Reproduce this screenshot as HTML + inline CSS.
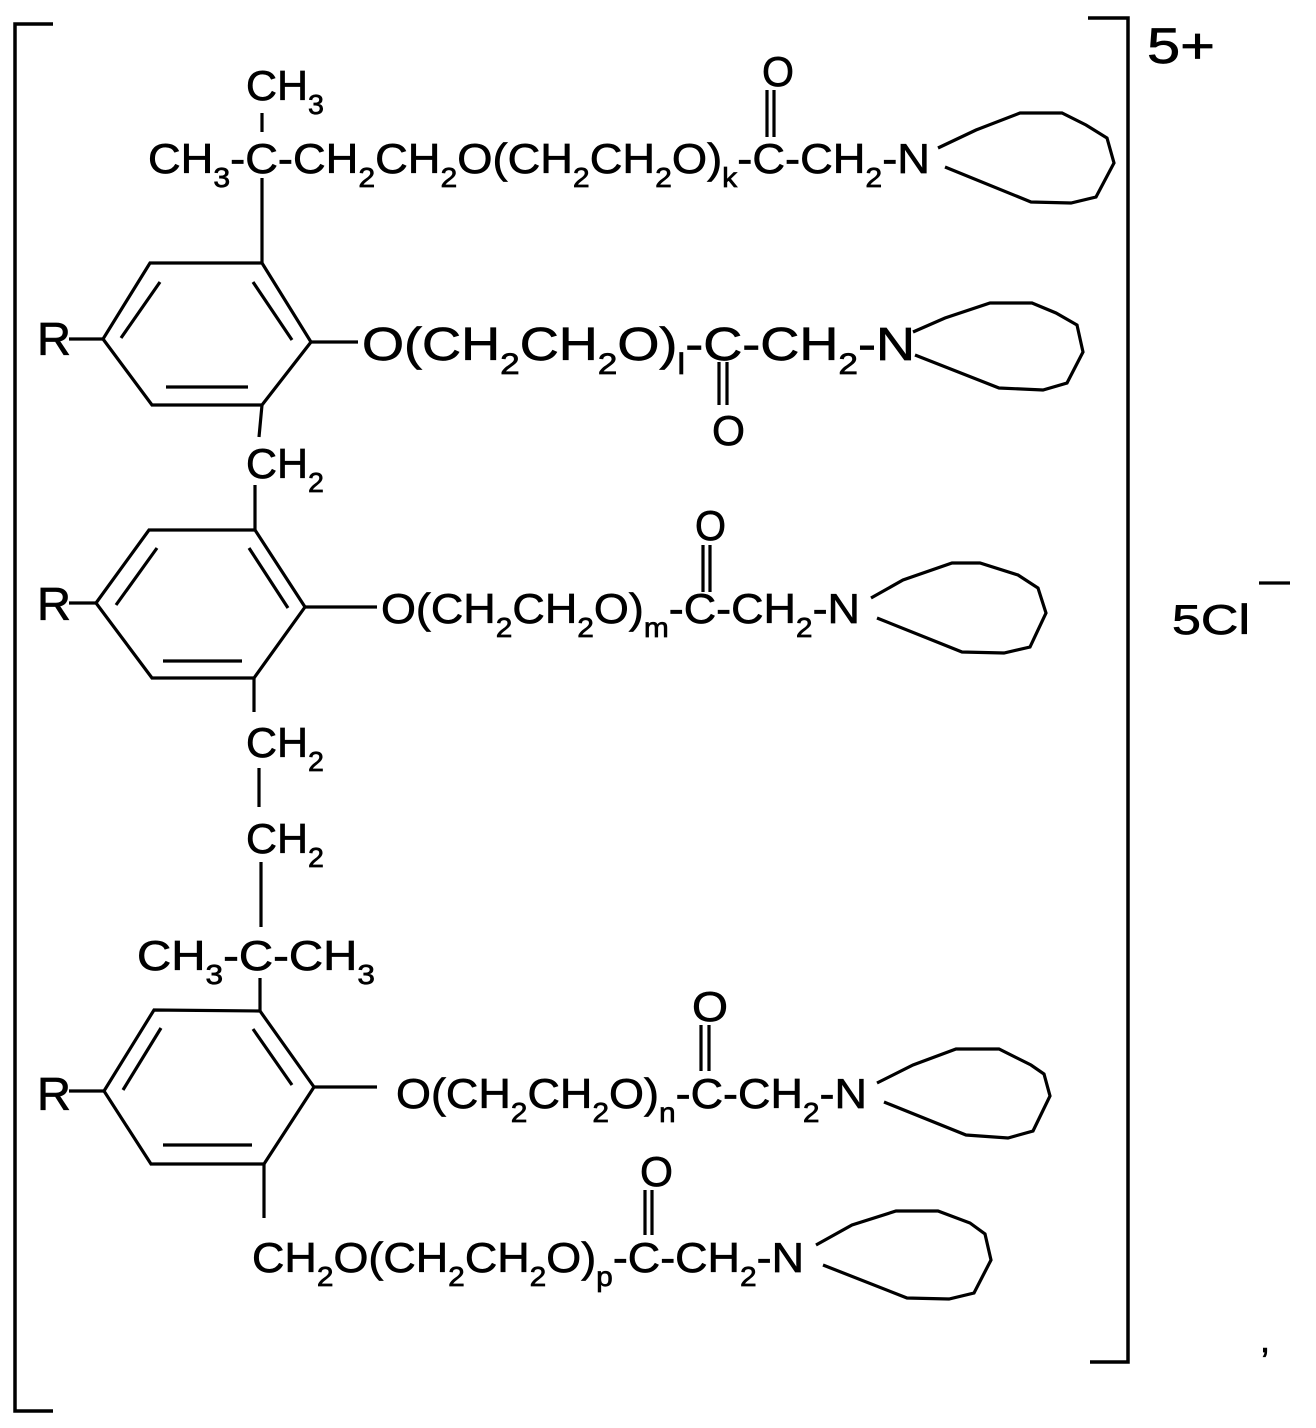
<!DOCTYPE html>
<html><head><meta charset="utf-8"><style>
html,body{margin:0;padding:0;background:#fff;}
svg{display:block;}
text{font-family:"Liberation Sans",Arial,sans-serif;fill:#000;stroke:#000;stroke-width:0.7;}
</style></head><body>
<svg width="1316" height="1428" viewBox="0 0 1316 1428" xmlns="http://www.w3.org/2000/svg">
<g stroke="#000" stroke-width="3.2" fill="none" stroke-linecap="butt">
<polyline points="53,24 15,24 15,1411 53,1411" stroke-width="3.5"/>
<polyline points="1088,18 1128,18 1128,1362 1090,1362" stroke-width="3.5"/>
<polygon points="150,263 262,263 311,342 262,405 152,405 103,339"/>
<line x1="160" y1="282" x2="121" y2="338"/>
<line x1="253" y1="282" x2="292" y2="340"/>
<line x1="166" y1="387" x2="248" y2="387"/>
<line x1="69" y1="339" x2="103" y2="339"/>
<line x1="311" y1="342" x2="358" y2="342"/>
<line x1="262" y1="113" x2="262" y2="132"/>
<line x1="262" y1="178" x2="262" y2="263"/>
<line x1="262" y1="405" x2="259" y2="437"/>
<line x1="255" y1="485" x2="255" y2="530"/>
<polygon points="149,530 255,530 305,607 254,678 152,678 96,603"/>
<line x1="157" y1="548" x2="116" y2="605"/>
<line x1="249" y1="548" x2="288" y2="608"/>
<line x1="163" y1="661" x2="242" y2="661"/>
<line x1="69" y1="603" x2="96" y2="603"/>
<line x1="305" y1="607" x2="377" y2="607"/>
<line x1="254" y1="678" x2="254" y2="712"/>
<line x1="259" y1="768" x2="259" y2="807"/>
<line x1="261" y1="862" x2="261" y2="927"/>
<line x1="260" y1="978" x2="260" y2="1011"/>
<polygon points="154,1010 260,1011 314,1087 264,1164 151,1164 104,1091"/>
<line x1="161" y1="1028" x2="123" y2="1090"/>
<line x1="253" y1="1029" x2="292" y2="1085"/>
<line x1="163" y1="1145" x2="252" y2="1145"/>
<line x1="69" y1="1091" x2="104" y2="1091"/>
<line x1="314" y1="1087" x2="377" y2="1087"/>
<line x1="264" y1="1164" x2="264" y2="1218"/>
<line x1="767" y1="90" x2="767" y2="137"/><line x1="774" y1="90" x2="774" y2="137"/>
<line x1="719" y1="362" x2="719" y2="405"/><line x1="727" y1="362" x2="727" y2="405"/>
<line x1="703" y1="545" x2="703" y2="592"/><line x1="710" y1="545" x2="710" y2="592"/>
<line x1="701" y1="1025" x2="701" y2="1071"/><line x1="709" y1="1025" x2="709" y2="1071"/>
<line x1="645" y1="1190" x2="645" y2="1235"/><line x1="652" y1="1190" x2="652" y2="1235"/>
<polyline points="938,148 976,130 1020,113 1062,113 1086,125 1107,138 1114,163 1096,197 1071,203 1031,202 945,167"/>
<polyline points="913,332 945,318 990,303 1032,303 1056,313 1077,325 1083,352 1067,383 1043,390 999,388 915,355"/>
<polyline points="871,598 903,580 952,563 980,563 1018,575 1038,588 1046,613 1030,647 1004,653 962,652 877,618"/>
<polyline points="877,1083 913,1065 956,1049 999,1049 1031,1065 1044,1074 1050,1096 1033,1131 1008,1138 966,1135 884,1102"/>
<polyline points="816,1245 852,1225 896,1211 938,1211 970,1223 985,1234 991,1260 974,1293 949,1299 907,1298 823,1265"/>
<line x1="1259" y1="583" x2="1290" y2="583"/>
</g>
<g font-size="42">
<text x="246" y="100" textLength="78" lengthAdjust="spacingAndGlyphs">CH<tspan font-size="28" dy="14">3</tspan></text>
<text x="148" y="173" textLength="782" lengthAdjust="spacingAndGlyphs">CH<tspan font-size="28" dy="14">3</tspan><tspan dy="-14">-C-CH</tspan><tspan font-size="28" dy="14">2</tspan><tspan dy="-14">CH</tspan><tspan font-size="28" dy="14">2</tspan><tspan dy="-14">O(CH</tspan><tspan font-size="28" dy="14">2</tspan><tspan dy="-14">CH</tspan><tspan font-size="28" dy="14">2</tspan><tspan dy="-14">O)</tspan><tspan font-size="28" dy="14">k</tspan><tspan dy="-14">-C-CH</tspan><tspan font-size="28" dy="14">2</tspan><tspan dy="-14">-N</tspan></text>
<text x="762" y="86" textLength="32" lengthAdjust="spacingAndGlyphs">O</text>
<text x="362" y="360" font-size="46" textLength="553" lengthAdjust="spacingAndGlyphs">O(CH<tspan font-size="30" dy="14">2</tspan><tspan dy="-14">CH</tspan><tspan font-size="30" dy="14">2</tspan><tspan dy="-14">O)</tspan><tspan font-size="30" dy="14">l</tspan><tspan dy="-14">-C-CH</tspan><tspan font-size="30" dy="14">2</tspan><tspan dy="-14">-N</tspan></text>
<text x="712" y="445" textLength="33" lengthAdjust="spacingAndGlyphs">O</text>
<text x="37" y="355" font-size="46" textLength="34" lengthAdjust="spacingAndGlyphs">R</text>
<text x="246" y="478" textLength="78" lengthAdjust="spacingAndGlyphs">CH<tspan font-size="28" dy="14">2</tspan></text>
<text x="37" y="620" font-size="46" textLength="34" lengthAdjust="spacingAndGlyphs">R</text>
<text x="381" y="623" textLength="479" lengthAdjust="spacingAndGlyphs">O(CH<tspan font-size="28" dy="14">2</tspan><tspan dy="-14">CH</tspan><tspan font-size="28" dy="14">2</tspan><tspan dy="-14">O)</tspan><tspan font-size="28" dy="14">m</tspan><tspan dy="-14">-C-CH</tspan><tspan font-size="28" dy="14">2</tspan><tspan dy="-14">-N</tspan></text>
<text x="695" y="540" textLength="31" lengthAdjust="spacingAndGlyphs">O</text>
<text x="246" y="757" textLength="78" lengthAdjust="spacingAndGlyphs">CH<tspan font-size="28" dy="14">2</tspan></text>
<text x="246" y="853" textLength="78" lengthAdjust="spacingAndGlyphs">CH<tspan font-size="28" dy="14">2</tspan></text>
<text x="137" y="970" textLength="238" lengthAdjust="spacingAndGlyphs">CH<tspan font-size="28" dy="14">3</tspan><tspan dy="-14">-C-CH</tspan><tspan font-size="28" dy="14">3</tspan></text>
<text x="37" y="1110" font-size="46" textLength="34" lengthAdjust="spacingAndGlyphs">R</text>
<text x="396" y="1108" textLength="471" lengthAdjust="spacingAndGlyphs">O(CH<tspan font-size="28" dy="14">2</tspan><tspan dy="-14">CH</tspan><tspan font-size="28" dy="14">2</tspan><tspan dy="-14">O)</tspan><tspan font-size="28" dy="14">n</tspan><tspan dy="-14">-C-CH</tspan><tspan font-size="28" dy="14">2</tspan><tspan dy="-14">-N</tspan></text>
<text x="692" y="1021" textLength="36" lengthAdjust="spacingAndGlyphs">O</text>
<text x="252" y="1272" textLength="552" lengthAdjust="spacingAndGlyphs">CH<tspan font-size="28" dy="14">2</tspan><tspan dy="-14">O(CH</tspan><tspan font-size="28" dy="14">2</tspan><tspan dy="-14">CH</tspan><tspan font-size="28" dy="14">2</tspan><tspan dy="-14">O)</tspan><tspan font-size="28" dy="14">p</tspan><tspan dy="-14">-C-CH</tspan><tspan font-size="28" dy="14">2</tspan><tspan dy="-14">-N</tspan></text>
<text x="640" y="1186" textLength="33" lengthAdjust="spacingAndGlyphs">O</text>
<text x="1147" y="63" font-size="50" textLength="68" lengthAdjust="spacingAndGlyphs">5+</text>
<text x="1172" y="634" textLength="78" lengthAdjust="spacingAndGlyphs">5Cl</text>
<text x="1260" y="1352" font-size="36">,</text>
</g>
</svg>
</body></html>
